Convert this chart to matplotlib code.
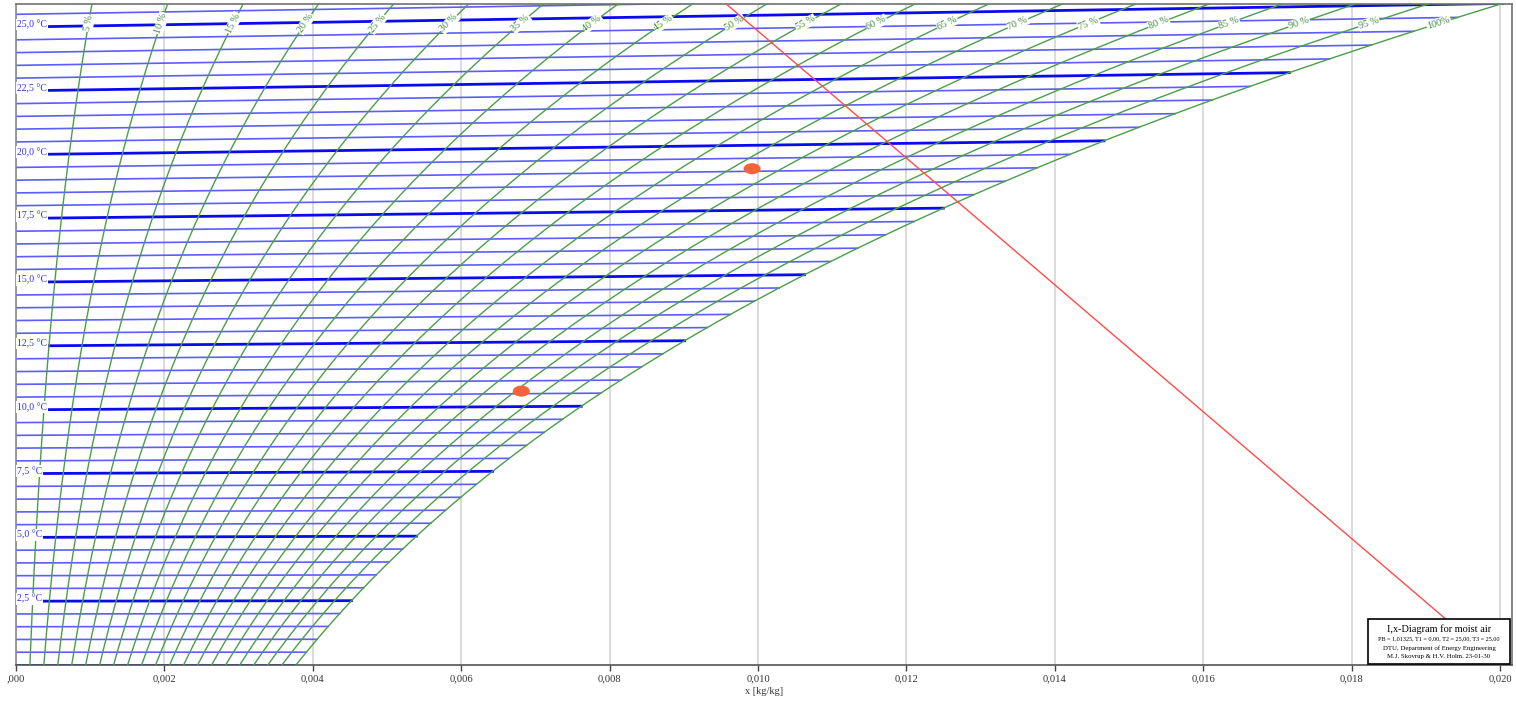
import numpy as np
import matplotlib
matplotlib.use('Agg')
import matplotlib.pyplot as plt
from matplotlib.patches import Ellipse, Rectangle

plt.rcParams['font.family'] = ['Liberation Serif', 'DejaVu Serif']

# values of the diagram
pressure = 101.325  # kPa
isotherm_temps = np.arange(0.0, 26.0, 0.5)
labelled_temps = [2.5, 5.0, 7.5, 10.0, 12.5, 15.0, 17.5, 20.0, 22.5, 25.0]
temp_labels = ['2,5 °C', '5,0 °C', '7,5 °C', '10,0 °C', '12,5 °C',
               '15,0 °C', '17,5 °C', '20,0 °C', '22,5 °C', '25,0 °C']
rh_levels = [5, 10, 15, 20, 25, 30, 35, 40, 45, 50,
             55, 60, 65, 70, 75, 80, 85, 90, 95, 100]
rh_label_y = 25.3
x_ticks = [0.000, 0.002, 0.004, 0.006, 0.008, 0.010,
           0.012, 0.014, 0.016, 0.018, 0.020]
x_ticklabels = [',000', '0,002', '0,004', '0,006', '0,008', '0,010',
                '0,012', '0,014', '0,016', '0,018', '0,020']
enthalpy_line = 50.0  # kJ/kg
point_x = [0.00992, 0.00681]
point_t = [19.1, 10.6]

x_max = 0.02016
y_max = 26.06


def p_sat(t):
    # Magnus formula, kPa
    return 0.61094 * np.exp(17.625 * t / (t + 243.04))


def x_of(t, phi):
    pw = phi * p_sat(t)
    return 0.622 * pw / (pressure - pw)


def y_of(t, x):
    # skewed enthalpy coordinate: h - 2501 x
    return t * (1.006 + 1.86 * x)


fig = plt.figure(figsize=(15.16, 7.02), dpi=100)
ax = fig.add_axes([16 / 1516, 37 / 702, 1496 / 1516, 661 / 702])
ax.set_xlim(0, x_max)
ax.set_ylim(0, y_max)

# grid
for xt in x_ticks:
    ax.axvline(xt, color='#d4d4d4', lw=1.2, zorder=0)

# isotherms
for t in isotherm_temps:
    xs = x_of(t, 1.0)
    thick = abs(t / 2.5 - round(t / 2.5)) < 1e-9
    if thick:
        ax.plot([0, xs], [y_of(t, 0), y_of(t, xs)], color='#0a0aee', lw=2.0, zorder=2)
    else:
        ax.plot([0, xs], [y_of(t, 0), y_of(t, xs)], color='#5c5cff', lw=1.2, zorder=1)

for t, lab in zip(labelled_temps, temp_labels):
    ax.text(0.00001, y_of(t, 0) + 0.1, lab, ha='left', va='center', fontsize=7,
            color='#2e2ef2', zorder=4,
            bbox=dict(boxstyle='square,pad=0.12', fc='white', ec='none'))

# relative humidity curves
tt = np.linspace(0, 27, 400)
for rh in rh_levels:
    phi = rh / 100
    xc = x_of(tt, phi)
    yc = y_of(tt, xc)
    ax.plot(xc, yc, color='#4a9e4a', lw=1.0, zorder=3)

    t_lab = np.interp(rh_label_y, yc, tt)
    x_lab = x_of(t_lab, phi)
    p1 = ax.transData.transform((x_of(t_lab - 0.2, phi), y_of(t_lab - 0.2, x_of(t_lab - 0.2, phi))))
    p2 = ax.transData.transform((x_of(t_lab + 0.2, phi), y_of(t_lab + 0.2, x_of(t_lab + 0.2, phi))))
    ang = np.degrees(np.arctan2(p2[1] - p1[1], p2[0] - p1[0]))
    txt = '%d %%' % rh if rh < 100 else '100%'
    ax.text(x_lab, rh_label_y, txt, rotation=ang, rotation_mode='anchor',
            ha='center', va='center', fontsize=7.2, color='#3a883a', zorder=5,
            bbox=dict(boxstyle='square,pad=0.08', fc='white', ec='none'))

# constant enthalpy line
hx = np.array([(enthalpy_line - y_max) / 2501, enthalpy_line / 2501])
ax.plot(hx, enthalpy_line - 2501 * hx, color='#ff4a4a', lw=1.0, zorder=6)

# state points
for px, pt in zip(point_x, point_t):
    ax.add_patch(Ellipse((px, y_of(pt, px)), 0.000229, 0.434, fc='#f6623a', ec='none', zorder=7))

# info box
ax.add_patch(Rectangle((0.9037, 0.0015), 0.095, 0.068, transform=ax.transAxes,
                       fc='white', ec='black', lw=1.2, zorder=10))
bx = 0.9037 + 0.095 / 2
ax.text(bx, 0.0535, 'I,x-Diagram for moist air', transform=ax.transAxes,
        ha='center', va='center', fontsize=7.4, zorder=11)
ax.text(bx, 0.0395, 'PB = 1,01325, T1 = 0,00, T2 = 25,00, T3 = 25,00', transform=ax.transAxes,
        ha='center', va='center', fontsize=4.4, zorder=11)
ax.text(bx, 0.026, 'DTU, Department of Energy Engineering', transform=ax.transAxes,
        ha='center', va='center', fontsize=4.9, zorder=11)
ax.text(bx, 0.0135, 'M.J. Skovrup & H.V. Holm. 23-01-30', transform=ax.transAxes,
        ha='center', va='center', fontsize=4.9, zorder=11)

# axes styling
ax.set_xticks(x_ticks)
ax.set_xticklabels(x_ticklabels)
ax.set_yticks([])
ax.tick_params(axis='x', direction='out', length=4, width=1, color='#444444',
               labelsize=7.6, labelcolor='#333333', pad=3)
for side in ['left', 'right', 'top', 'bottom']:
    ax.spines[side].set_linewidth(1.2)
ax.spines['left'].set_color('#8a8a8a')
ax.spines['top'].set_color('#707070')
ax.spines['right'].set_color('#707070')
ax.spines['bottom'].set_color('#555555')
ax.set_xlabel('x [kg/kg]', fontsize=7.4, color='#333333', labelpad=2)

fig.savefig('out.png', dpi=100, facecolor='white')
